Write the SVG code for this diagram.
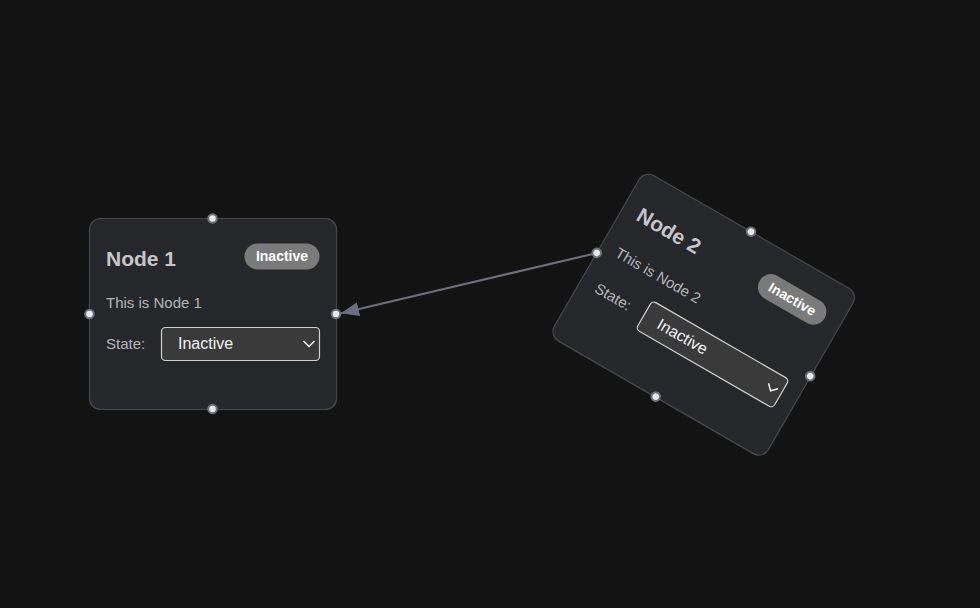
<svg xmlns="http://www.w3.org/2000/svg" width="980" height="608" viewBox="0 0 980 608">
<style>
.card{fill:#26272b;stroke:#46484e;stroke-width:1.2}
.title{font-family:"Liberation Sans",Arial,sans-serif;font-weight:bold;font-size:21px;fill:#c6c6c9}
.desc{font-family:"Liberation Sans",Arial,sans-serif;font-size:15px;fill:#b4b4b7}
.pill{fill:#7a7a7a}
.pilltxt{font-family:"Liberation Sans",Arial,sans-serif;font-weight:bold;font-size:14px;fill:#ffffff}
.sel{fill:#3a3a3b;stroke:#cfcfcf;stroke-width:1.2}
.seltxt{font-family:"Liberation Sans",Arial,sans-serif;font-size:16px;fill:#f2f2f2}
.chev{fill:none;stroke:#f0f0f0;stroke-width:1.5}
.handle{fill:#e8e8ea;stroke:#6c6f7a;stroke-width:2}
.edge{fill:none;stroke:#6c6f7b;stroke-width:2.2}
</style>
<defs>
<marker id="arrow" markerUnits="userSpaceOnUse" markerWidth="20" markerHeight="16" refX="18" refY="7" orient="auto">
<path d="M0,0 L18,7 L0,14 z" fill="#6c6f7b"/>
</marker>
</defs>
<rect width="980" height="608" fill="#131313"/>
<g id="connectors">
<line class="edge" x1="597" y1="253" x2="341" y2="313.2" marker-end="url(#arrow)"/>
</g>
<g id="node1">
<rect class="card" x="89.5" y="218.5" width="247" height="191" rx="11"/>
<text class="title" x="106" y="266">Node 1</text>
<rect class="pill" x="244.5" y="243.5" width="75" height="26" rx="13"/>
<text class="pilltxt" x="282" y="261" text-anchor="middle">Inactive</text>
<text class="desc" x="106" y="308">This is Node 1</text>
<text class="desc" x="106" y="349">State:</text>
<rect class="sel" x="161.5" y="327.5" width="158" height="33" rx="4"/>
<text class="seltxt" x="178" y="349">Inactive</text>
<path class="chev" d="M303.5 341 L309 346.5 L314.5 341"/>
<circle class="handle" cx="212.5" cy="218.5" r="4.3"/>
<circle class="handle" cx="212.5" cy="409" r="4.3"/>
<circle class="handle" cx="89.5" cy="314" r="4.3"/>
<circle class="handle" cx="336" cy="314" r="4.3"/>
</g>
<g id="node2" transform="translate(703.5,314) rotate(30) translate(-212.5,-313.5)">
<rect class="card" x="89.5" y="218.5" width="247" height="191" rx="11"/>
<text class="title" x="106" y="266">Node 2</text>
<rect class="pill" x="244.5" y="243.5" width="75" height="26" rx="13"/>
<text class="pilltxt" x="282" y="261" text-anchor="middle">Inactive</text>
<text class="desc" x="106" y="308">This is Node 2</text>
<text class="desc" x="106" y="349">State:</text>
<rect class="sel" x="161.5" y="327.5" width="158" height="33" rx="4"/>
<text class="seltxt" x="178" y="349">Inactive</text>
<path class="chev" d="M303.5 341 L309 346.5 L314.5 341"/>
<circle class="handle" cx="212.5" cy="218.5" r="4.3"/>
<circle class="handle" cx="212.5" cy="409" r="4.3"/>
<circle class="handle" cx="89.5" cy="314" r="4.3"/>
<circle class="handle" cx="336" cy="314" r="4.3"/>
</g>
</svg>
